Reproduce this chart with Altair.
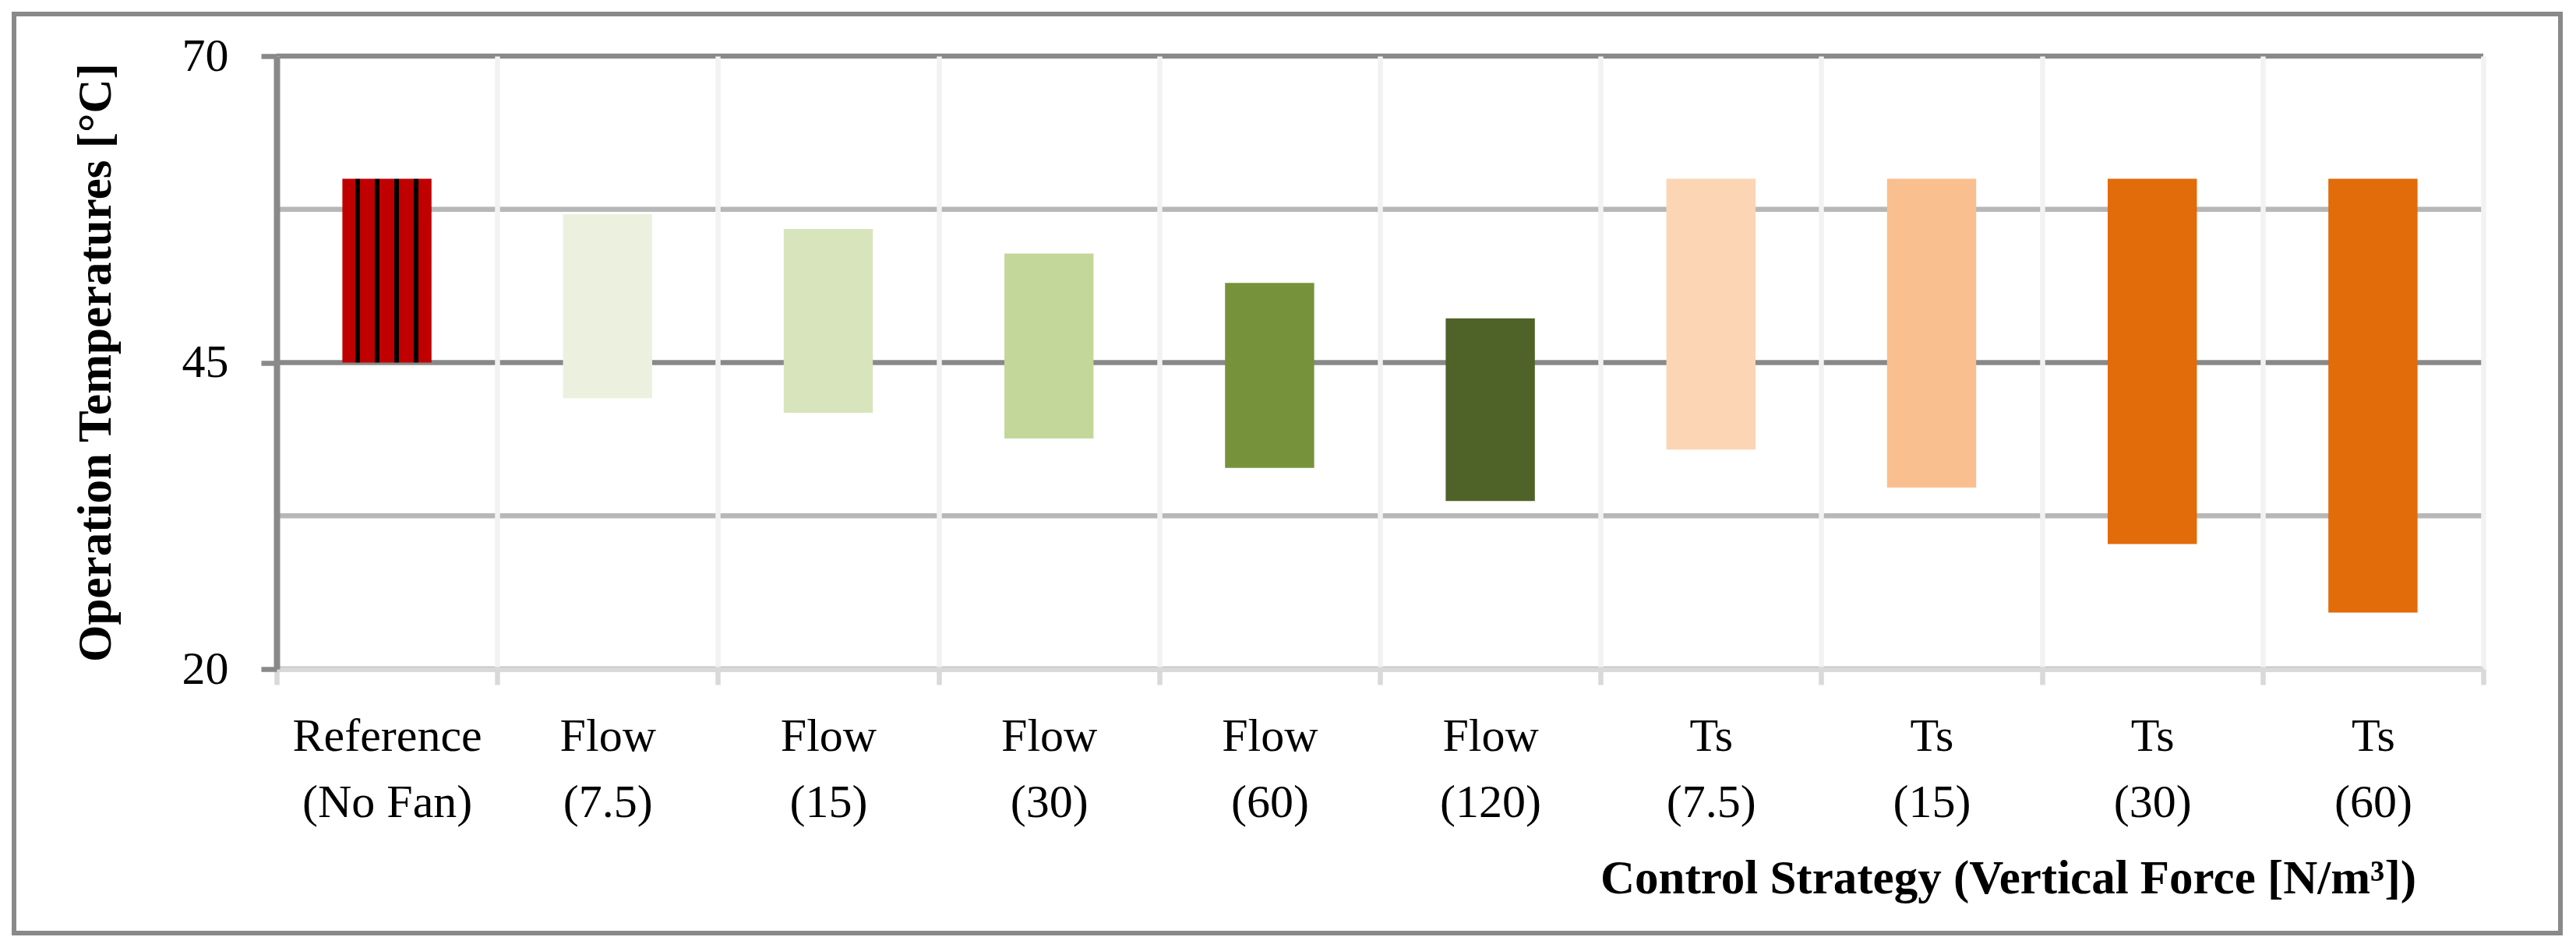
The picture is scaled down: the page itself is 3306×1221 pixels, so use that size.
import altair as alt
import pandas as pd

# ---- data ----
strategies = ["Reference", "Flow", "Flow", "Flow", "Flow", "Flow", "Ts", "Ts", "Ts", "Ts"]
forces = ["(No Fan)", "(7.5)", "(15)", "(30)", "(60)", "(120)", "(7.5)", "(15)", "(30)", "(60)"]
upper_temp = [60.0, 57.1, 55.9, 53.9, 51.5, 48.6, 60.0, 60.0, 60.0, 60.0]
lower_temp = [45.0, 42.1, 40.9, 38.8, 36.4, 33.7, 37.9, 34.8, 30.2, 24.6]
bar_colors = ["#C00000", "#EBF1DE", "#D8E4BC", "#C4D79B", "#76933C", "#4F6228",
              "#FCD5B4", "#FABF8F", "#E26B0A", "#E26B0A"]
y_ticks = [20, 45, 70]
grid_values = [20, 32.5, 45, 57.5, 70]

categories = [f"{s}|{f}" for s, f in zip(strategies, forces)]
df = pd.DataFrame({"cat": categories, "hi": upper_temp, "lo": lower_temp})
grid_df = pd.DataFrame({"g": grid_values})
frame_df = pd.DataFrame({"k": [0]})

FONT = "Liberation Serif"

x_enc = alt.X(
    "cat:N",
    sort=categories,
    scale=alt.Scale(domain=categories, paddingInner=0, paddingOuter=0),
    axis=alt.Axis(
        title="Control Strategy (Vertical Force [N/m³])",
        titleFont=FONT, titleFontSize=61, titleFontWeight="bold", titleColor="black",
        titleX=2222, titleY=287, titleAlign="center", titleBaseline="alphabetic",
        labelExpr="isString(datum.value) ? split(datum.value, '|') : ''",
        labelFont=FONT, labelFontSize=60, labelColor="black", labelAngle=0,
        labelLineHeight=85, labelPadding=37, labelBaseline="top",
        labelLimit=0, labelOverlap=False,
        tickBand="extent", grid=True, gridColor="#F2F2F2", gridWidth=6.5,
        domainColor="#D9D9D9", domainWidth=6.5,
        tickColor="#D9D9D9", tickWidth=6.5, tickSize=20,
        zindex=1,
    ),
)

y_scale = alt.Scale(domain=[20, 70], nice=False, zero=False)
y_axis = alt.Axis(
    title="Operation Temperatures [°C]",
    titleFont=FONT, titleFontSize=61, titleFontWeight="bold", titleColor="black",
    titleAngle=270, titleX=-214, titleY=393, titleAlign="center", titleBaseline="alphabetic",
    values=y_ticks, grid=False,
    labelFont=FONT, labelFontSize=60, labelColor="black", labelPadding=42,
    domainColor="#898989", domainWidth=8,
    tickColor="#898989", tickWidth=6.5, tickSize=20,
    zindex=2,
)

base = alt.Chart(df)

gridlines = alt.Chart(grid_df).mark_rule(strokeWidth=6.5).encode(
    y=alt.Y("g:Q", scale=y_scale, axis=y_axis),
    color=alt.condition("datum.g == 32.5 || datum.g == 57.5",
                        alt.value("#B7B7B7"), alt.value("#898989")),
)

bars = base.transform_filter(f"datum.cat != '{categories[0]}'").mark_bar(
    width=alt.RelativeBandSize(0.404)
).encode(
    x=x_enc,
    y=alt.Y("lo:Q", scale=y_scale, axis=y_axis),
    y2="hi:Q",
    color=alt.Color("cat:N", scale=alt.Scale(domain=categories, range=bar_colors), legend=None),
)

stops = [(0, "#C00000"), (0.145, "#C00000"), (0.145, "#000000"), (0.2, "#000000"),
         (0.2, "#C00000"), (0.365, "#C00000"), (0.365, "#000000"), (0.417, "#000000"),
         (0.417, "#C00000"), (0.583, "#C00000"), (0.583, "#000000"), (0.635, "#000000"),
         (0.635, "#C00000"), (0.8, "#C00000"), (0.8, "#000000"), (0.852, "#000000"),
         (0.852, "#C00000"), (1, "#C00000")]
stripe_fill = alt.LinearGradient(
    gradient="linear", x1=0, x2=1, y1=0, y2=0,
    stops=[alt.GradientStop(offset=o, color=c) for o, c in stops],
)

ref_bar = base.transform_filter(f"datum.cat == '{categories[0]}'").mark_bar(
    width=alt.RelativeBandSize(0.404), fill=stripe_fill
).encode(
    x=x_enc,
    y=alt.Y("lo:Q", scale=y_scale, axis=y_axis),
    y2="hi:Q",
)

frame = alt.Chart(frame_df).mark_rect(
    fill=None, stroke="#898989", strokeWidth=6
).encode(
    x=alt.value(-337), x2=alt.value(2931), y=alt.value(-54), y2=alt.value(1126)
)

chart = alt.layer(gridlines, bars, ref_bar, frame).properties(
    width=2832, height=787,
    autosize=alt.AutoSizeParams(type="none"),
    padding={"left": 347, "top": 64, "right": 111, "bottom": 349},
    background="white",
).configure_view(stroke=None)

chart.save("out.html", embed_options={"renderer": "svg", "actions": False})
